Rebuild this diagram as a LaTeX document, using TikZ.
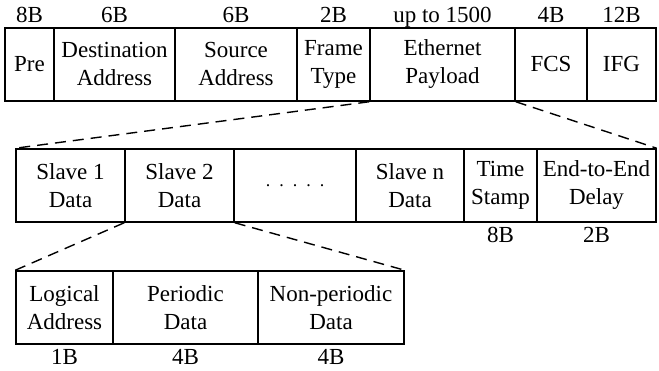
\documentclass[tikz,border=0pt]{standalone}
\usepackage{fontspec}
\setmainfont{Liberation Serif}
\usetikzlibrary{positioning}

\tikzset{
    field/.style={draw, line width=1.5pt, inner sep=0pt, align=center, minimum height=73pt,
        font=\fontsize{23}{28}\selectfont},
    size/.style={font=\fontsize{23}{28}\selectfont, text height=15pt, text depth=0pt},
    zoomline/.style={line width=1.4pt, dash pattern=on 11pt off 7pt}
}

\begin{document}
\begin{tikzpicture}[x=1pt, y=-1pt, label distance=1pt]
    \useasboundingbox (0,0) rectangle (659,371);

    % Ethernet frame
    \node[field, minimum width=49pt, label={[size]above:8B}] (pre) at (29.5,64.5) {Pre};
    \node[field, minimum width=121pt, label={[size]above:6B}] (dst) at (114.5,64.5) {Destination\\Address};
    \node[field, minimum width=122pt, label={[size]above:6B}] (src) at (236,64.5) {Source\\Address};
    \node[field, minimum width=73pt, label={[size]above:2B}] (type) at (333.5,64.5) {Frame\\Type};
    \node[field, minimum width=145pt, label={[size]above:up to 1500}] (payload) at (442.5,64.5) {Ethernet\\Payload};
    \node[field, minimum width=72pt, label={[size]above:4B}] (fcs) at (551,64.5) {FCS};
    \node[field, minimum width=69pt, label={[size]above:12B}] (ifg) at (621.5,64.5) {IFG};

    % payload
    \node[field, minimum width=109pt] (slave1) at (70.5,185.5) {Slave 1\\Data};
    \node[field, minimum width=109pt] (slave2) at (179.5,185.5) {Slave 2\\Data};
    \node[field, minimum width=122pt, font=\fontsize{18}{22}\selectfont] (dots) at (295,185.5) {.\ \ .\ \ .\ \ .\ \ .};
    \node[field, minimum width=108pt] (slaven) at (410,185.5) {Slave n\\Data};
    \node[field, minimum width=73pt, label={[size]below:8B}] (stamp) at (500.5,185.5) {Time\\Stamp};
    \node[field, minimum width=119pt, label={[size]below:2B}] (delay) at (596.5,185.5) {End-to-End\\Delay};

    % slave data
    \node[field, minimum width=97pt, label={[size]below:1B}] (logaddr) at (64.5,307.5) {Logical\\Address};
    \node[field, minimum width=145pt, label={[size]below:4B}] (periodic) at (185.5,307.5) {Periodic\\Data};
    \node[field, minimum width=146pt, label={[size]below:4B}] (nonper) at (331,307.5) {Non-periodic\\Data};

    \draw[zoomline] (payload.south west) -- (slave1.north west);
    \draw[zoomline] (payload.south east) -- (delay.north east);
    \draw[zoomline] (slave2.south west) -- (logaddr.north west);
    \draw[zoomline] (slave2.south east) -- (nonper.north east);
\end{tikzpicture}
\end{document}
